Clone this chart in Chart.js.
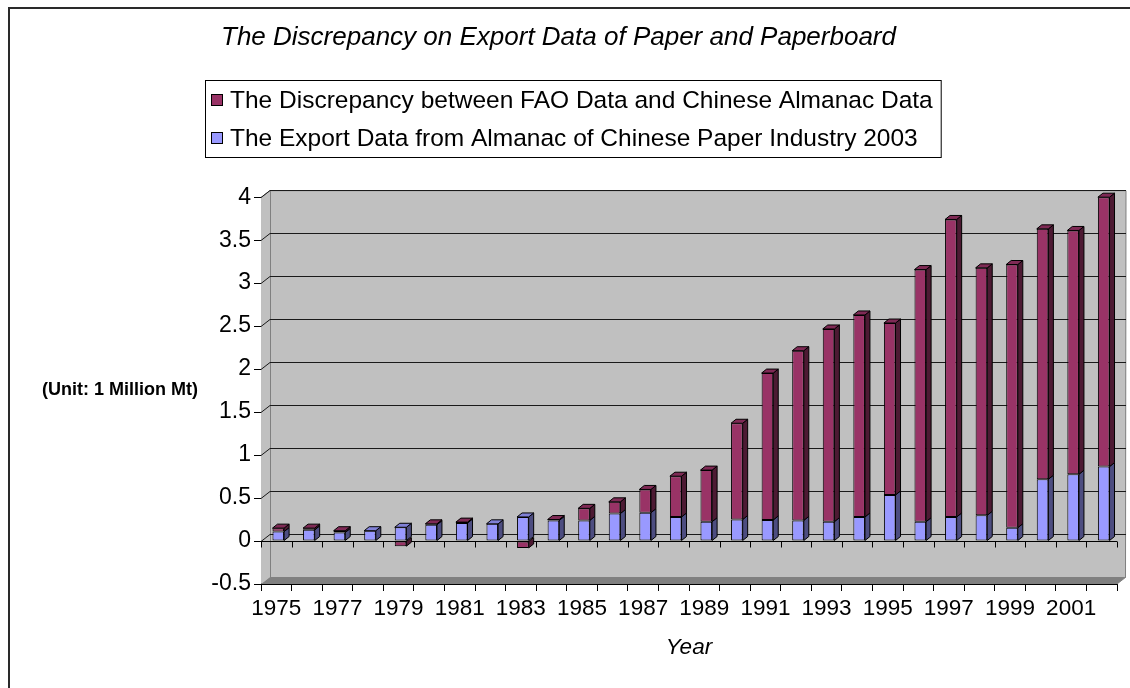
<!DOCTYPE html>
<html>
<head>
<meta charset="utf-8">
<script src="https://cdn.jsdelivr.net/npm/chart.js@4.4.1/dist/chart.umd.min.js"></script>
<style>
  html, body { margin: 0; padding: 0; background: #ffffff; }
  #wrap { width: 1130px; height: 688px; position: relative; }
</style>
</head>
<body>
<div id="wrap"><canvas id="chart" width="1130" height="688"></canvas></div>
<script>
// Paper and paperboard exports, million tonnes
const years = ['1975','1976','1977','1978','1979','1980','1981','1982','1983','1984',
               '1985','1986','1987','1988','1989','1990','1991','1992','1993','1994',
               '1995','1996','1997','1998','1999','2000','2001','2002'];
const almanacExport = [0.11, 0.13, 0.10, 0.12, 0.16, 0.19, 0.21, 0.20, 0.28, 0.24,
                       0.24, 0.32, 0.33, 0.28, 0.225, 0.25, 0.245, 0.24, 0.225, 0.28,
                       0.536, 0.225, 0.28, 0.30, 0.155, 0.719, 0.777, 0.866];
const faoDiscrepancy = [0.04, 0.02, 0.02, 0, -0.06, 0.01, 0.01, 0, -0.08, 0.01,
                        0.14, 0.136, 0.27, 0.474, 0.60, 1.12, 1.709, 1.974, 2.242, 2.35,
                        2.0, 2.933, 3.461, 2.878, 3.062, 2.913, 2.836, 3.134];
const yTickValues = [-0.5, 0, 0.5, 1, 1.5, 2, 2.5, 3, 3.5, 4];
const seriesNames = ['The Export Data from Almanac of Chinese Paper Industry 2003',
                     'The Discrepancy between FAO Data and Chinese Almanac Data'];
const chartTitle = 'The Discrepancy on Export Data of Paper and Paperboard';
const unitLabel = '(Unit: 1 Million Mt)';
const xAxisTitle = 'Year';

const FONT = '"Liberation Sans", Arial, Helvetica, sans-serif';
const BLUE = '#9999ff', PURPLE = '#993366';
const sideShade = { [BLUE]: '#4d4d80', [PURPLE]: '#4d1a33' };
const topShade  = { [BLUE]: '#8080d6', [PURPLE]: '#7f2a55' };

// wall depth and bar depth of the pseudo-3D frame
const WALL = { dx: 9, dy: -7 };
const BAR = { dx: 5, dy: -4, shift: 2 };

function poly(ctx, pts, fill, stroke) {
  ctx.beginPath();
  ctx.moveTo(pts[0][0], pts[0][1]);
  for (let i = 1; i < pts.length; i++) ctx.lineTo(pts[i][0], pts[i][1]);
  ctx.closePath();
  if (fill) { ctx.fillStyle = fill; ctx.fill(); }
  if (stroke) { ctx.strokeStyle = stroke; ctx.lineWidth = 1; ctx.stroke(); }
}

const frame3d = {
  id: 'frame3d',
  beforeDraw(chart) {
    const ctx = chart.ctx;
    ctx.save();
    ctx.fillStyle = '#ffffff';
    ctx.fillRect(0, 0, chart.width, chart.height);
    // outer chart border (runs past the right and bottom edges)
    ctx.strokeStyle = '#2a2a2a';
    ctx.lineWidth = 2;
    ctx.strokeRect(9, 8, 1300, 900);
    ctx.restore();
  },
  beforeDatasetsDraw(chart) {
    const ctx = chart.ctx;
    const { left: L, right: R, top: T, bottom: B } = chart.chartArea;
    const { dx, dy } = WALL;
    const ys = chart.scales.y, xs = chart.scales.x;
    ctx.save();
    // side wall, back wall, floor
    poly(ctx, [[L, T], [L + dx, T + dy], [L + dx, B + dy], [L, B]], '#c0c0c0');
    ctx.fillStyle = '#c0c0c0';
    ctx.fillRect(L + dx, T + dy, R - L, B - T);
    poly(ctx, [[L, B], [L + dx, B + dy], [R + dx, B + dy], [R, B]], '#808080');
    // wall edges
    ctx.strokeStyle = '#808080';
    ctx.lineWidth = 1;
    ctx.beginPath();
    ctx.moveTo(L + dx + 0.5, B + dy);
    ctx.lineTo(L + dx + 0.5, T + dy + 0.5);
    ctx.lineTo(R + dx, T + dy + 0.5);
    ctx.lineTo(R + dx - 0.5, B + dy);
    ctx.stroke();
    ctx.beginPath();
    ctx.moveTo(L, T + 0.5);
    ctx.lineTo(L + dx, T + dy + 0.5);
    ctx.stroke();
    ctx.beginPath();
    ctx.moveTo(R, B);
    ctx.lineTo(R + dx, B + dy);
    ctx.stroke();
    // gridlines on side and back walls
    ctx.strokeStyle = '#1a1a1a';
    for (const v of yTickValues) {
      if (v <= ys.min) continue;
      const y = Math.round(ys.getPixelForValue(v)) + 0.5;
      ctx.beginPath();
      ctx.moveTo(L, y);
      ctx.lineTo(L + dx, y + dy);
      ctx.lineTo(R + dx, y + dy);
      ctx.stroke();
    }
    // category axis crossing at zero, with its tick marks
    const y0 = Math.round(ys.getPixelForValue(0)) + 0.5;
    ctx.strokeStyle = '#000000';
    ctx.beginPath();
    ctx.moveTo(L, y0);
    ctx.lineTo(R, y0);
    const n = xs.ticks.length;
    for (let i = 0; i <= n; i++) {
      const x = Math.round(L + (R - L) * i / n) + 0.5;
      ctx.moveTo(x, y0);
      ctx.lineTo(x, y0 + 6);
    }
    ctx.stroke();
    ctx.restore();
    // bars sit slightly inside the depth of the frame
    ctx.save();
    ctx.translate(BAR.shift, 0);
  },
  afterDatasetsDraw(chart) {
    const ctx = chart.ctx;
    const { dx, dy } = BAR;
    const metas = chart.data.datasets.map((d, i) => chart.getDatasetMeta(i));
    for (let i = 0; i < years.length; i++) {
      let topSeg = null;
      metas.forEach((meta, k) => {
        const bar = meta.data[i];
        const p = bar.getProps(['x', 'y', 'base', 'width'], true);
        const top = Math.min(p.y, p.base), bot = Math.max(p.y, p.base);
        if (bot - top < 0.5) return;
        const xl = p.x - p.width / 2, xr = p.x + p.width / 2;
        const col = chart.data.datasets[k].backgroundColor;
        poly(ctx, [[xr, top], [xr + dx, top + dy], [xr + dx, bot + dy], [xr, bot]], sideShade[col], '#000');
        if (!topSeg || top < topSeg.top) topSeg = { top, xl, xr, col };
      });
      if (topSeg) {
        const { top, xl, xr, col } = topSeg;
        poly(ctx, [[xl, top], [xl + dx, top + dy], [xr + dx, top + dy], [xr, top]], topShade[col], '#000');
      }
    }
    ctx.restore();
  },
  afterDraw(chart) {
    const ctx = chart.ctx;
    ctx.save();
    // legend box, discrepancy series listed first
    const items = [1, 0].map(k => chart.data.datasets[k]);
    ctx.font = '24.5px ' + FONT;
    const textW = Math.max(...items.map(d => ctx.measureText(d.label).width));
    const bx = 205, by = 80, bh = 77;
    const bw = 25 + textW + 8;
    ctx.strokeStyle = '#000';
    ctx.lineWidth = 1;
    ctx.strokeRect(bx + 0.5, by + 0.5, bw, bh);
    ctx.textBaseline = 'middle';
    ctx.textAlign = 'left';
    items.forEach((d, r) => {
      const cy = by + 20 + r * 38;
      ctx.fillStyle = d.backgroundColor;
      ctx.fillRect(bx + 6, cy - 6, 12, 12);
      ctx.strokeRect(bx + 6.5, cy - 5.5, 11, 11);
      ctx.fillStyle = '#000';
      ctx.fillText(d.label, bx + 25, cy + 1);
    });
    // unit caption beside the value axis
    ctx.font = 'bold 18px ' + FONT;
    ctx.textAlign = 'right';
    ctx.fillText(unitLabel, 198, 390);
    ctx.restore();
  }
};

new Chart(document.getElementById('chart'), {
  type: 'bar',
  data: {
    labels: years,
    datasets: [
      { label: seriesNames[0], data: almanacExport, backgroundColor: BLUE },
      { label: seriesNames[1], data: faoDiscrepancy, backgroundColor: PURPLE }
    ]
  },
  options: {
    responsive: false,
    animation: false,
    devicePixelRatio: 1,
    layout: { padding: { top: 0, right: 13, bottom: 0, left: 0 } },
    datasets: {
      bar: {
        borderColor: '#000000',
        borderWidth: 1,
        borderSkipped: false,
        barPercentage: 0.38,
        categoryPercentage: 1.0,
        clip: false
      }
    },
    plugins: {
      legend: { display: false },
      tooltip: { enabled: false },
      title: {
        display: true,
        text: chartTitle,
        color: '#000',
        font: { family: FONT, size: 26, style: 'italic', weight: 'normal', lineHeight: 1.2 },
        padding: { top: 22, bottom: 144 }
      }
    },
    scales: {
      x: {
        stacked: true,
        afterFit(s) { s.height = 104; },
        grid: { offset: true, drawOnChartArea: false, drawTicks: true, tickLength: 7, color: '#000' },
        border: { display: true, color: '#000' },
        ticks: {
          autoSkip: false, maxRotation: 0, minRotation: 0, padding: 4, color: '#000',
          font: { family: FONT, size: 22.5 },
          callback: (v, i) => (i % 2 === 0 ? years[i] : '')
        },
        title: {
          display: true, text: xAxisTitle, color: '#000',
          font: { family: FONT, size: 22.5, style: 'italic', lineHeight: 1.2 },
          padding: { top: 0, bottom: 27 }
        }
      },
      y: {
        stacked: true,
        min: -0.5, max: 4,
        afterFit(s) { s.width = 261; },
        afterBuildTicks(s) { s.ticks = yTickValues.map(v => ({ value: v })); },
        grid: { drawOnChartArea: false, drawTicks: true, tickLength: 7, color: '#000' },
        border: { display: true, color: '#000' },
        ticks: {
          padding: 3, color: '#000',
          font: { family: FONT, size: 23 },
          callback: v => String(Math.round(v * 10) / 10)
        }
      }
    }
  },
  plugins: [frame3d]
});
</script>
</body>
</html>
